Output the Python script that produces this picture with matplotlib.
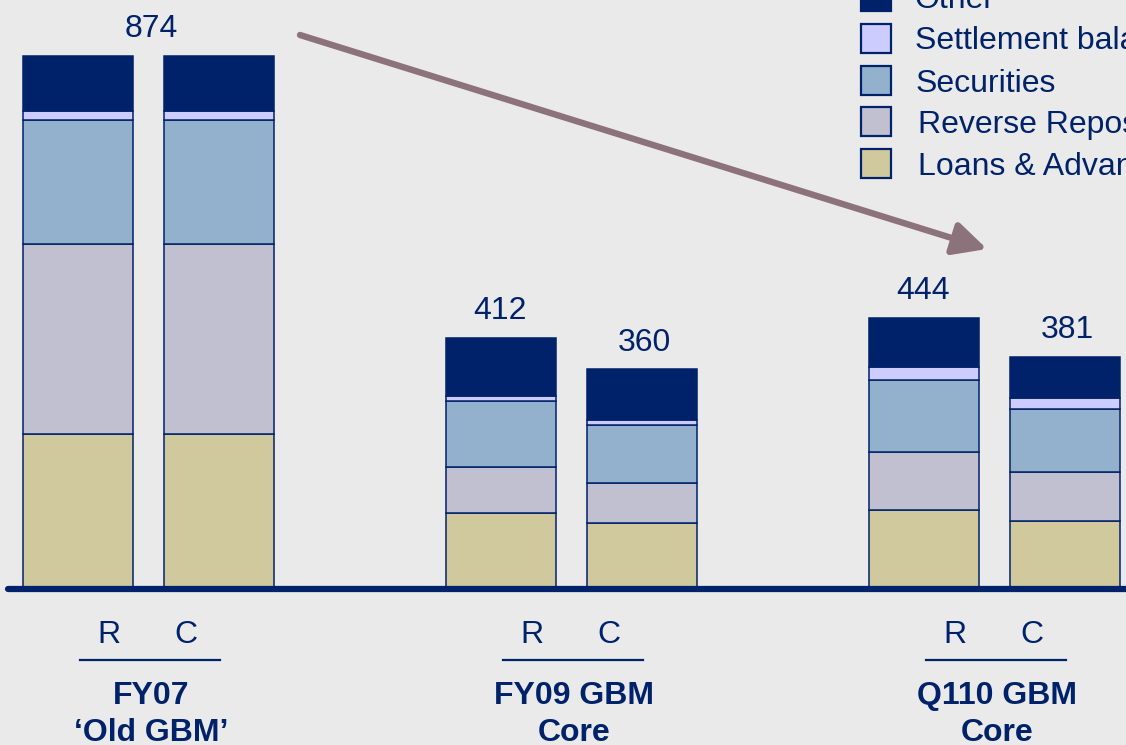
import matplotlib
matplotlib.use("Agg")
import matplotlib.pyplot as plt
from matplotlib import font_manager
from matplotlib.patches import Rectangle

# stacked balance sheet components (GBP bn), bars: FY07 R/C, FY09 R/C, Q110 R/C
groups = ["FY07\n\u2018Old GBM\u2019", "FY09 GBM\nCore", "Q110 GBM\nCore"]
sub_labels = ["R", "C"]
series_names = ["Loans & Advances", "Reverse Repos", "Securities",
                "Settlement balances", "Other"]
loans = [254, 254, 125, 108, 130, 112]
repos = [312, 312, 75, 66, 95, 80]
securities = [203, 203, 108, 95, 118, 103]
settlement = [15, 15, 8, 8, 21, 18]
other = [90, 90, 96, 83, 80, 68]
totals = [874, 874, 412, 360, 444, 381]

colors = ["#D1C99E", "#C0C0D0", "#93B1CD", "#CCCCFF", "#00226A"]
navy = "#00226A"
bg = "#EAEAEA"
fs = 23

names = {f.name for f in font_manager.fontManager.ttflist}
font = "Liberation Sans" if "Liberation Sans" in names else "DejaVu Sans"
narrow = "Liberation Sans Narrow" if "Liberation Sans Narrow" in names else font
plt.rcParams["font.family"] = [font, "DejaVu Sans"]

fig = plt.figure(figsize=(11.26, 7.45), dpi=100)
fig.patch.set_facecolor(bg)
ax = fig.add_axes([0, 0, 1, 1])
ax.set_facecolor(bg)
ax.axis("off")

# pixel layout -> data coords
slot = 141.0      # px between neighbouring bars
x0 = 77.5         # px centre of first bar
base = 589.0      # px of zero line
scale = 533.0 / 874  # px per unit
def px2x(p):
    return (p - x0) / slot
def px2y(p):
    return (base - p) / scale

ax.set_xlim(px2x(0), px2x(1126))
ax.set_ylim(px2y(745), px2y(0))

xpos = [0, 1, 3, 4, 6, 7]
width = 110 / slot
stack = [loans, repos, securities, settlement, other]
bottom = [0] * len(xpos)
for vals, c, nm in zip(stack, colors, series_names):
    ax.bar(xpos, vals, width, bottom=bottom, color=c, edgecolor=navy,
           linewidth=1.1, label=nm, zorder=2)
    bottom = [b + v for b, v in zip(bottom, vals)]

# zero line
ax.plot([px2x(8), px2x(1126)], [0, 0], color=navy, lw=4.5,
        solid_capstyle="round", zorder=3)

# total labels
for g in range(3):
    i, j = 2 * g, 2 * g + 1
    if totals[i] == totals[j]:
        spots = [((xpos[i] + xpos[j]) / 2 + 0.02, totals[i])]
    else:
        spots = [(xpos[i], totals[i]), (xpos[j] + 0.02, totals[j])]
    for (x, t) in spots:
        ax.annotate(str(t), (x, t), xytext=(0, 13.5),
                    textcoords="offset points", ha="center",
                    va="baseline", fontsize=fs, color=navy)

# group labels
for g, lab in enumerate(groups):
    gc = (xpos[2 * g] + xpos[2 * g + 1]) / 2
    fam = [narrow, font] if g < 2 else [font]
    ax.text(gc - 0.28, px2y(643), sub_labels[0], ha="center", va="baseline",
            fontsize=fs, color=navy, family=fam)
    ax.text(gc + 0.27, px2y(643), sub_labels[1], ha="center", va="baseline",
            fontsize=fs, color=navy, family=fam)
    ax.plot([gc - 0.48, gc + 0.51], [px2y(660)] * 2, color=navy, lw=1.6)
    top, bot = lab.split("\n")
    ax.text(gc + 0.02, px2y(704), top, ha="center", va="baseline",
            fontsize=fs, color=navy, fontweight="bold", family=fam)
    ax.text(gc + 0.02, px2y(741), bot, ha="center", va="baseline",
            fontsize=fs, color=navy, fontweight="bold", family=fam)

# legend (cut by the right edge as in the original)
leg_rows = [-3, 38.5, 81, 122, 164]
leg_text_x = [915, 915, 916, 918, 918]
for k in range(5):
    s = 4 - k
    yc = leg_rows[k]
    ax.add_patch(Rectangle((px2x(861), px2y(yc + 14.5)), 30 / slot, 29 / scale,
                           facecolor=colors[s], edgecolor=navy, lw=1.6,
                           clip_on=False, zorder=4))
    ax.text(px2x(leg_text_x[k]), px2y(yc + 11), series_names[s], ha="left",
            va="baseline", fontsize=fs, color=navy, clip_on=False)

# trend arrow
ax.annotate("", xy=(px2x(987), px2y(249)), xytext=(px2x(300), px2y(35)),
            arrowprops=dict(arrowstyle="-|>,head_length=1.0,head_width=0.5",
                            color="#8C727A", lw=4.6, mutation_scale=20,
                            shrinkA=0, shrinkB=0), zorder=5)

fig.savefig("out.png", dpi=100, facecolor=bg)
